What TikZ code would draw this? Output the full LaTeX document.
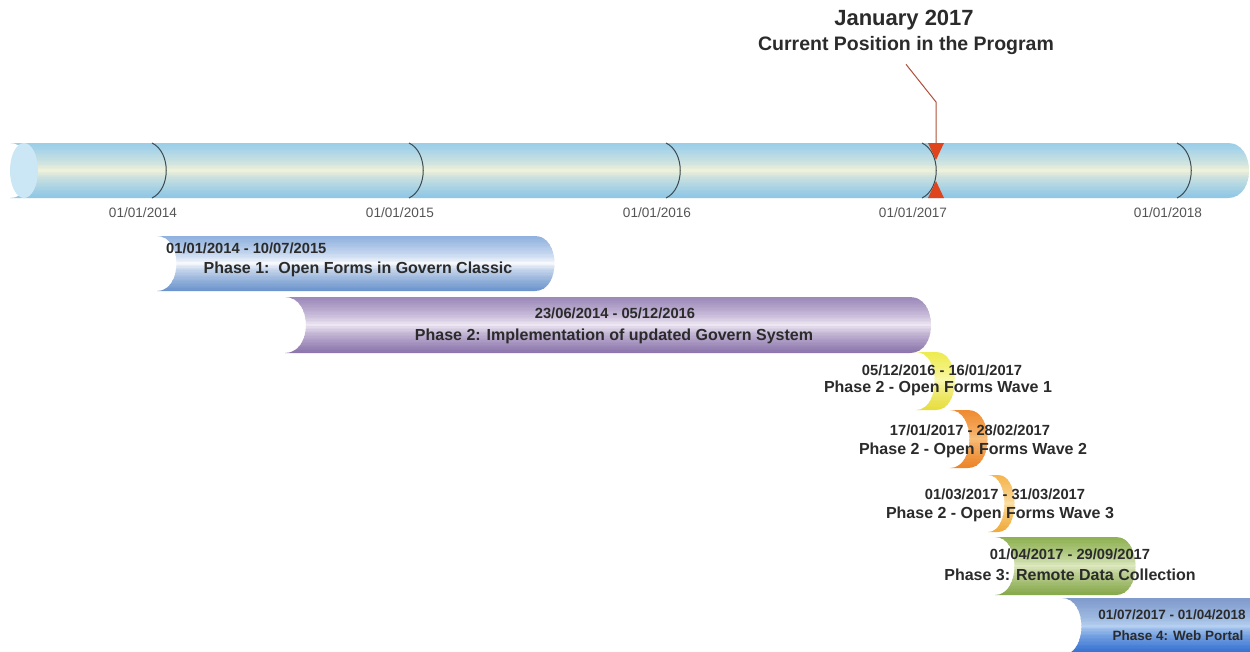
\documentclass[tikz,border=0pt]{standalone}
\usepackage{fontspec}
\setmainfont{Liberation Sans}
\definecolor{txt}{HTML}{2B2B2B}
\definecolor{ticktxt}{HTML}{555555}
\definecolor{tubetop}{HTML}{98CDEA}
\definecolor{tubemid}{HTML}{F8F4D8}
\definecolor{tubebot}{HTML}{8CC6E7}
\definecolor{capblue}{HTML}{CBE6F4}
\definecolor{tickline}{HTML}{3C4C50}
\definecolor{pointer}{HTML}{B0503A}
\definecolor{marker}{HTML}{E0441C}
\definecolor{pAtop}{HTML}{8EB0DE}\definecolor{pAmid}{HTML}{FFFFFF}\definecolor{pAbot}{HTML}{6A93CC}
\definecolor{pBtop}{HTML}{9A86B8}\definecolor{pBmid}{HTML}{F6F1F9}\definecolor{pBbot}{HTML}{8A73AB}
\definecolor{wAtop}{HTML}{EDEB4E}\definecolor{wAmid}{HTML}{FBFAB8}\definecolor{wAbot}{HTML}{E6DD3C}
\definecolor{wBtop}{HTML}{EF8A30}\definecolor{wBmid}{HTML}{F8C482}\definecolor{wBbot}{HTML}{EC8428}
\definecolor{wCtop}{HTML}{F5B44E}\definecolor{wCmid}{HTML}{FBE2AA}\definecolor{wCbot}{HTML}{F0AA3C}
\definecolor{pCtop}{HTML}{8DB050}\definecolor{pCmid}{HTML}{E4EDCA}\definecolor{pCbot}{HTML}{86A84A}
\definecolor{pDtop}{HTML}{7F9ACB}\definecolor{pDmid}{HTML}{B9D4F3}\definecolor{pDbot}{HTML}{2C6ACF}
% #1 x1, #2 x2, #3 top, #4 bottom, #5 depth, #6/#7/#8 top/middle/bottom colours
\newcommand{\tubebar}[8]{%
  \begin{scope}
    \clip (#1,#3) -- (#2,#3) .. controls ({#2+#5},#3) and ({#2+#5},#4) .. (#2,#4)
      -- (#1,#4) .. controls ({#1+#5},#4) and ({#1+#5},#3) .. (#1,#3) -- cycle;
    \foreach \i in {0,...,39}{%
      \pgfmathsetmacro{\ya}{#3+(#4-#3)*\i/40}%
      \pgfmathsetmacro{\yb}{#3+(#4-#3)*(\i+1)/40+0.6}%
      \pgfmathtruncatemacro{\pct}{100*(abs(\i+0.5-20)/20)^0.65}%
      \ifnum\i<20 \colorlet{edgec}{#6}\else\colorlet{edgec}{#8}\fi
      \fill[edgec!\pct!#7] (#1,\ya) rectangle ({#2+#5},\yb);
    }
  \end{scope}}
\tikzset{
  ticklbl/.style={text=ticktxt, font=\fontsize{13.6}{15}\selectfont, inner sep=0pt},
  datelbl/.style={text=txt, font=\fontsize{14.7}{16}\selectfont\bfseries, inner sep=0pt},
  phaselbl/.style={text=txt, font=\fontsize{16}{18}\selectfont\bfseries, inner sep=0pt},
  smalllbl/.style={text=txt, font=\fontsize{13.5}{15}\selectfont\bfseries, inner sep=0pt},
  bigttl/.style={text=txt, font=\fontsize{22}{24}\selectfont\bfseries, inner sep=0pt},
  subttl/.style={text=txt, font=\fontsize{19.5}{21}\selectfont\bfseries, inner sep=0pt},
  tickarc/.style={draw=tickline, line width=1pt},
}
\begin{document}
\begin{tikzpicture}[x=1pt, y=-1pt]
\useasboundingbox[fill=white] (0,0) rectangle (1250,651);
% main tube
\tubebar{10}{1228}{143}{198}{28}{tubetop}{tubemid}{tubebot}
\fill[capblue] (24,170.5) ellipse [x radius=14, y radius=27.5];
% ticks
\foreach \x/\yr in {152/2014, 409/2015, 666/2016, 922/2017, 1177/2018}{
  \draw[tickarc] (\x,143) .. controls ({\x+19},152) and ({\x+19},189) .. (\x,198);
  \node[ticklbl] (t\yr) at ({\x-9},213) {01/01/\yr};
}
% title and pointer
\node[bigttl] (jan) at (904,20) {January 2017};
\node[subttl] (cur) at (906,45) {Current Position in the Program};
\coordinate (bend) at (936,102);
\coordinate (mk) at (936,150);
\draw[pointer, line width=1pt] ([yshift=-10pt]cur.south) -- (bend) -- (mk);
\fill[marker] (928,143) -- (944,143) -- (936,160) -- cycle;
\fill[marker] (928,198) -- (944,198) -- (936,181) -- cycle;
% phase bars
\tubebar{157}{535}{236}{291}{26}{pAtop}{pAmid}{pAbot}
\tubebar{285}{910}{297}{353}{28}{pBtop}{pBmid}{pBbot}
\tubebar{916}{936}{352}{410}{25}{wAtop}{wAmid}{wAbot}
\tubebar{950}{968}{410}{468}{26}{wBtop}{wBmid}{wBbot}
\tubebar{988}{998}{475}{532}{22}{wCtop}{wCmid}{wCbot}
\tubebar{995}{1116}{537}{595}{26}{pCtop}{pCmid}{pCbot}
\tubebar{1062}{1262}{598}{655}{26}{pDtop}{pDmid}{pDbot}
% phase labels
\node[datelbl, anchor=west] (p1d) at (166,248) {01/01/2014 - 10/07/2015};
\node[phaselbl] (p1t) at (358,269) {Phase 1:\ \ Open Forms in Govern Classic};
\node[datelbl] (p2d) at (615,313) {23/06/2014 - 05/12/2016};
\node[phaselbl] (p2t) at (614,336) {Phase 2: Implementation of updated Govern System};
\node[datelbl] (w1d) at (942,370) {05/12/2016 - 16/01/2017};
\node[phaselbl] (w1t) at (938,388) {Phase 2 - Open Forms Wave 1};
\node[datelbl] (w2d) at (970,430) {17/01/2017 - 28/02/2017};
\node[phaselbl] (w2t) at (973,450) {Phase 2 - Open Forms Wave 2};
\node[datelbl] (w3d) at (1005,494) {01/03/2017 - 31/03/2017};
\node[phaselbl] (w3t) at (1000,514) {Phase 2 - Open Forms Wave 3};
\node[datelbl] (p3d) at (1070,554) {01/04/2017 - 29/09/2017};
\node[phaselbl] (p3t) at (1070,575) {Phase 3: Remote Data Collection};
\node[smalllbl] (p4d) at (1172,615) {01/07/2017 - 01/04/2018};
\node[smalllbl] (p4t) at (1178,636) {Phase 4: Web Portal};
\end{tikzpicture}
\end{document}
